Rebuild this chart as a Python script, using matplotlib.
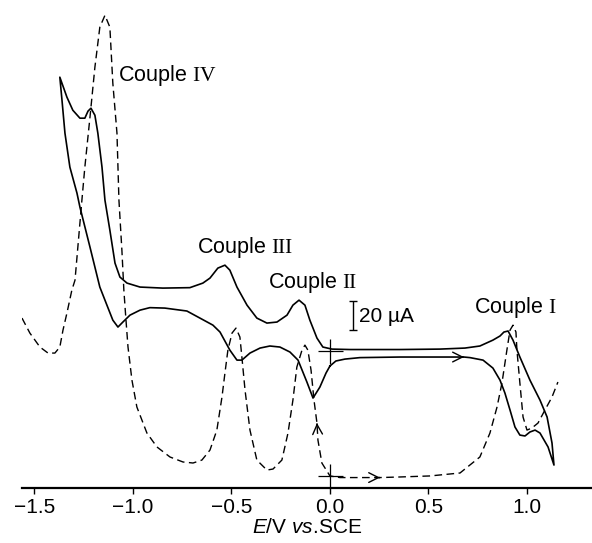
import numpy as np
from matplotlib import pyplot as plt

plt.rcParams['font.family'] = ['Liberation Sans', 'DejaVu Sans']
plt.rcParams['mathtext.fontset'] = 'custom'
plt.rcParams['mathtext.rm'] = 'Liberation Serif'
plt.rcParams['mathtext.it'] = 'Liberation Sans:italic'

# potential (V vs. SCE) and current (uA, arbitrary offset)
cv_e = [0.000, 0.030, 0.076, 0.152, 0.355, 0.558, 0.680, 0.711, 0.777, 0.827,
        0.863, 0.888, 0.914, 0.939, 0.964, 0.990, 1.015, 1.041, 1.066, 1.107,
        1.137, 1.127, 1.102, 1.066, 1.015, 0.964, 0.929, 0.904, 0.883, 0.863,
        0.827, 0.761, 0.685, 0.558, 0.355, 0.102, 0.010, -0.036, -0.066, -0.102,
        -0.127, -0.157, -0.188, -0.218, -0.269, -0.320, -0.371, -0.421, -0.472, -0.508,
        -0.533, -0.569, -0.609, -0.645, -0.711, -0.848, -0.964, -1.030, -1.066, -1.091,
        -1.117, -1.142, -1.157, -1.178, -1.193, -1.213, -1.228, -1.244, -1.269, -1.305,
        -1.335, -1.371, -1.360, -1.345, -1.320, -1.284, -1.269, -1.218, -1.168, -1.132,
        -1.102, -1.076, -1.051, -1.015, -0.964, -0.914, -0.838, -0.726, -0.660, -0.594,
        -0.558, -0.508, -0.472, -0.447, -0.406, -0.355, -0.305, -0.254, -0.203, -0.162,
        -0.117, -0.086, -0.051, -0.020, 0.000]
cv_i = [83.0, 86.4, 87.7, 88.7, 89.1, 89.1, 89.1, 88.7, 87.0, 81.6,
        73.4, 64.6, 53.0, 41.5, 36.0, 35.4, 38.1, 39.4, 37.4, 27.9,
        15.6, 30.6, 48.3, 59.8, 73.4, 89.1, 100.6, 106.8, 106.1, 103.4,
        100.6, 96.6, 95.2, 94.5, 94.2, 94.2, 94.5, 95.9, 102.0, 114.2,
        124.4, 127.8, 124.4, 117.6, 112.9, 112.2, 115.6, 124.4, 136.7, 148.2,
        151.6, 149.6, 142.8, 139.4, 136.3, 136.0, 136.7, 139.4, 143.5, 153.0,
        175.4, 195.8, 218.3, 241.4, 253.6, 258.4, 256.4, 251.6, 251.6, 257.0,
        265.9, 279.5, 263.8, 241.4, 218.3, 200.6, 191.1, 163.9, 136.7, 124.4,
        114.2, 109.5, 112.9, 117.6, 121.0, 122.7, 122.4, 120.4, 115.6, 110.8,
        106.1, 93.8, 87.0, 87.0, 91.8, 95.2, 96.6, 95.9, 92.5, 87.0,
        72.1, 61.2, 68.7, 78.2, 83.0]

dpv_e = [-1.563, -1.523, -1.472, -1.431, -1.396, -1.371, -1.355, -1.335, -1.310, -1.294,
         -1.259, -1.244, -1.218, -1.193, -1.168, -1.142, -1.117, -1.102, -1.081, -1.071,
         -1.056, -1.046, -1.036, -1.025, -1.005, -0.980, -0.929, -0.878, -0.812, -0.746,
         -0.695, -0.650, -0.609, -0.574, -0.548, -0.533, -0.518, -0.497, -0.477, -0.457,
         -0.447, -0.431, -0.406, -0.371, -0.320, -0.289, -0.244, -0.213, -0.188, -0.168,
         -0.142, -0.127, -0.112, -0.096, -0.081, -0.066, -0.061, -0.041, 0.000, 0.051,
         0.203, 0.254, 0.355, 0.508, 0.660, 0.761, 0.812, 0.848, 0.873, 0.898,
         0.914, 0.929, 0.944, 0.949, 0.964, 0.980, 1.000, 1.025, 1.056, 1.091,
         1.127, 1.157]
dpv_i = [115.6, 105.4, 95.9, 91.8, 91.8, 95.9, 107.4, 119.0, 134.6, 141.4,
         195.8, 218.3, 252.3, 286.3, 313.5, 321.6, 313.5, 275.4, 241.4, 195.8,
         161.8, 134.6, 115.6, 95.9, 73.4, 55.1, 37.4, 27.9, 21.1, 17.7,
         17.0, 19.0, 25.8, 39.4, 61.9, 78.2, 93.8, 105.4, 108.8, 102.7,
         89.1, 66.6, 39.4, 19.0, 12.2, 12.9, 19.0, 37.4, 59.8, 82.3,
         93.8, 97.2, 93.8, 80.2, 59.8, 44.2, 32.6, 17.0, 8.2, 7.1,
         7.1, 7.1, 7.5, 8.2, 10.2, 21.1, 37.4, 55.1, 71.4, 93.8,
         107.4, 110.8, 106.1, 93.8, 71.4, 48.3, 39.4, 40.8, 44.2, 53.0,
         61.9, 72.1]

# start points (zero current markers)
start_e = [0.0, 0.0]
start_i = [93.5, 8.2]

couple_labels = [r'Couple $\mathrm{IV}$', r'Couple $\mathrm{III}$',
                 r'Couple $\mathrm{II}$', r'Couple $\mathrm{I}$']
couple_e = [-1.076, -0.675, -0.315, 0.731]
couple_i = [280.8, 163.9, 140.1, 123.1]

xticks = [-1.5, -1.0, -0.5, 0.0, 0.5, 1.0]


def arrow(ax, e, i, k, back):
    # arrow head at point k, direction taken from point `back`
    p1 = np.array([e[k], i[k]])
    p0 = np.array([e[back], i[back]])
    ax.annotate('', xy=p1, xytext=p1 - 0.05 * (p1 - p0),
                arrowprops=dict(arrowstyle='->,head_length=0.7,head_width=0.35',
                                lw=1.0, color='black', shrinkA=0, shrinkB=0,
                                mutation_scale=10))


fig = plt.figure(figsize=(5.92, 5.43), dpi=100)
ax = fig.add_axes([22 / 592, 55 / 543, 570 / 592, 488 / 543])

ax.plot(cv_e, cv_i, color='black', lw=1.2)
ax.plot(dpv_e, dpv_i, color='black', lw=1.0, linestyle=(0, (5.5, 3.2)))
ax.plot(start_e, start_i, linestyle='none', marker='+', markersize=18,
        mew=0.9, color='black')

arrow(ax, cv_e, cv_i, 6, 5)
arrow(ax, dpv_e, dpv_i, 61, 60)
arrow(ax, dpv_e, dpv_i, 55, 56)

for label, e, i in zip(couple_labels, couple_e, couple_i):
    ax.text(e, i, label, fontsize=15.5, ha='left', va='center')

# 20 uA scale bar
ax.errorbar([0.115], [117.4], yerr=[10.0], color='black', lw=1.0,
            capsize=3, capthick=1.0)
ax.text(0.147, 117.0, '20 µA', fontsize=15, ha='left', va='center')

ax.set_xlim(-1.563, 1.33)
ax.set_ylim(0, 332)
ax.set_xticks(xticks)
ax.set_yticks([])
for side in ['left', 'right', 'top']:
    ax.spines[side].set_visible(False)
ax.spines['bottom'].set_linewidth(1.6)
ax.tick_params(axis='x', direction='out', length=4, width=1.0,
               labelsize=15, pad=3)
ax.set_xlabel(r'$E$/V $vs$.SCE', fontsize=15, labelpad=1)
ax.patch.set_alpha(0)

fig.savefig('out.png', dpi=100)
plt.close()
